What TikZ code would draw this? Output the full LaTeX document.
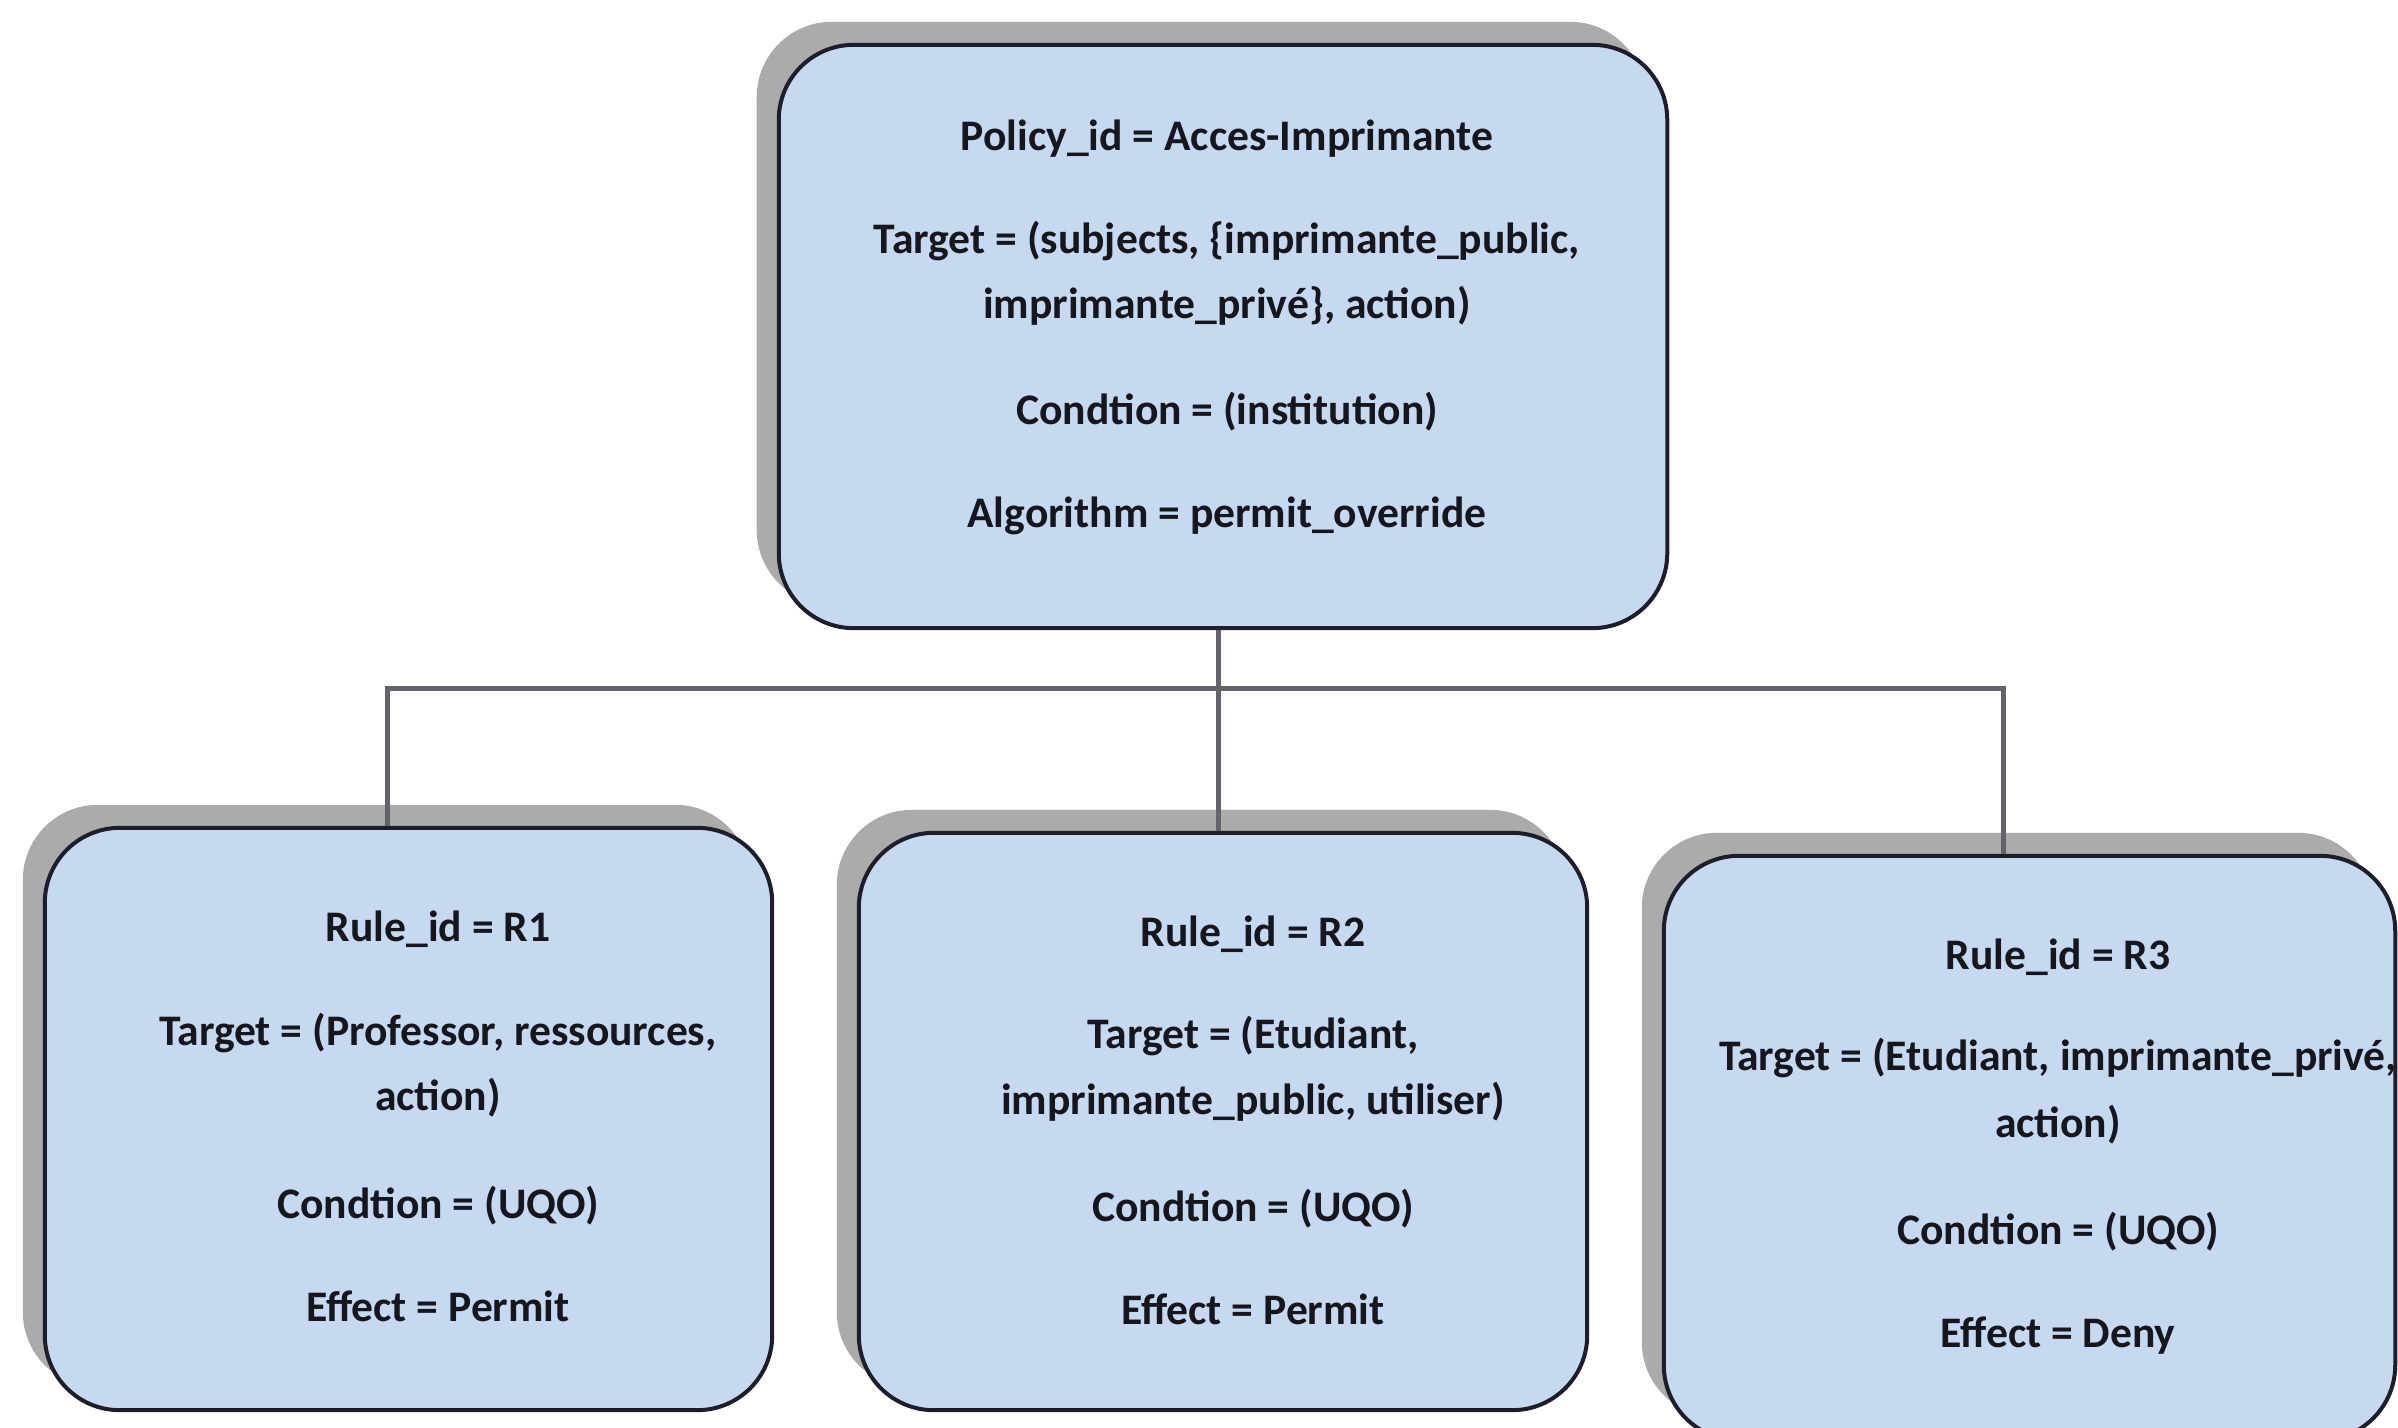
\documentclass[tikz,border=0pt]{standalone}
\usepackage{fontspec}
\setmainfont{Carlito}
\usetikzlibrary{shadows}
\definecolor{boxfill}{HTML}{C6D9F1}
\definecolor{boxline}{HTML}{1E1E2A}
\definecolor{shadowgray}{HTML}{ABABAB}
\definecolor{linkgray}{HTML}{66626C}
\definecolor{inkdark}{HTML}{16161F}

\begin{document}
\begin{tikzpicture}[x=0.01cm,y=-0.01cm,
  card/.style={draw=boxline, line width=0.04cm, fill=boxfill,
    rounded corners=0.75cm, inner sep=0pt,
    drop shadow={shadow xshift=-0.22cm, shadow yshift=0.23cm,
      fill=shadowgray, opacity=1}},
  txt/.style={text=inkdark, font=\fontsize{12.4pt}{14pt}\selectfont\bfseries,
    anchor=base, inner sep=0pt},
  link/.style={draw=linkgray, line width=0.05cm}]

\useasboundingbox (0,0) rectangle (2398,1427);
\clip (0,0) rectangle (2398,1427);

% policy and rule boxes
\node[card, minimum width=8.88cm, minimum height=5.83cm] (policy) at (1223,336.5) {};
\node[card, minimum width=7.27cm, minimum height=5.82cm] (r1) at (408.5,1119) {};
\node[card, minimum width=7.28cm, minimum height=5.77cm] (r2) at (1223,1121.5) {};
\node[card, minimum width=7.31cm, minimum height=5.84cm] (r3) at (2029.5,1148) {};

% tree connectors
\coordinate (bus)  at (1218,688);
\coordinate (busL) at (387,688);
\coordinate (busR) at (2003,688);
\draw[link] (bus |- policy.south) -- (bus |- r2.north);
\draw[link] (busL |- r1.north) -- (busL) -- (busR) -- (busR |- r3.north);

% policy text
\node[txt] (p1) at (1227,150) {Policy\_id = Acces-Imprimante};
\node[txt] (p2) at (1227,253) {Target = (subjects, \{imprimante\_public,};
\node[txt] (p3) at (1227,318) {imprimante\_privé\}, action)};
\node[txt] (p4) at (1227,424) {Condtion = (institution)};
\node[txt] (p5) at (1227,527) {Algorithm = permit\_override};

% rule R1
\node[txt] (a1) at (438,941)  {Rule\_id = R1};
\node[txt] (a2) at (438,1045) {Target = (Professor, ressources,};
\node[txt] (a3) at (438,1110) {action)};
\node[txt] (a4) at (438,1218) {Condtion = (UQO)};
\node[txt] (a5) at (438,1321) {Effect = Permit};

% rule R2
\node[txt] (b1) at (1253,946)  {Rule\_id = R2};
\node[txt] (b2) at (1253,1048) {Target = (Etudiant,};
\node[txt] (b3) at (1253,1114) {imprimante\_public, utiliser)};
\node[txt] (b4) at (1253,1221) {Condtion = (UQO)};
\node[txt] (b5) at (1253,1324) {Effect = Permit};

% rule R3
\node[txt] (c1) at (2058,969)  {Rule\_id = R3};
\node[txt] (c2) at (2058,1070) {Target = (Etudiant, imprimante\_privé,};
\node[txt] (c3) at (2058,1137) {action)};
\node[txt] (c4) at (2058,1244) {Condtion = (UQO)};
\node[txt] (c5) at (2058,1347) {Effect = Deny};
\end{tikzpicture}
\end{document}
